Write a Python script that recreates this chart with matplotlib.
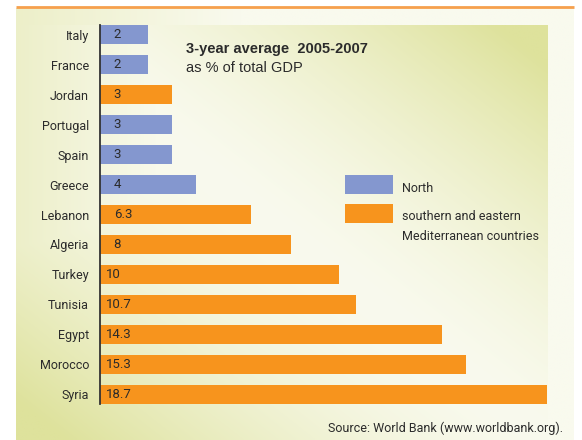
import numpy as np
import matplotlib
matplotlib.use("Agg")
import matplotlib.pyplot as plt
from matplotlib.patches import Rectangle

# data
countries = ["Italy", "France", "Jordan", "Portugal", "Spain", "Greece", "Lebanon",
             "Algeria", "Turkey", "Tunisia", "Egypt", "Morocco", "Syria"]
values = [2, 2, 3, 3, 3, 4, 6.3, 8, 10, 10.7, 14.3, 15.3, 18.7]
labels = ["2", "2", "3", "3", "3", "4", "6.3", "8", "10", "10.7", "14.3", "15.3", "18.7"]
region = ["N", "N", "S", "N", "N", "N", "S", "S", "S", "S", "S", "S", "S"]

BLUE = "#8497cf"
ORANGE = "#f7941d"
TXT = "#2b2b2b"
colors = [BLUE if r == "N" else ORANGE for r in region]

NARROW = ["Roboto", "DejaVu Sans"]
REG = ["Liberation Sans", "DejaVu Sans"]

W, H = 582, 440
fig = plt.figure(figsize=(W / 100, H / 100), dpi=100)
fig.patch.set_facecolor("white")

# background in pixel coordinates
bg = fig.add_axes([0, 0, 1, 1], zorder=-1)
bg.set_xlim(0, W)
bg.set_ylim(H, 0)
bg.axis("off")

light = np.array([249, 250, 238]) / 255
green = np.array([222, 226, 156]) / 255

# outer panel: greenish at left fading to light
xx = np.linspace(0, 1, 200)
g = np.clip(1 - xx * 2.5, 0, 1) * 0.45
img = light[None, None, :] * (1 - g[None, :, None]) + green[None, None, :] * g[None, :, None]
img = np.repeat(img, 2, axis=0)
bg.imshow(img, extent=(16, 574, H, 8), aspect="auto", interpolation="bilinear")

# inner panel: diagonal gradient, green at top-right and bottom-left
u, v = np.meshgrid(np.linspace(0, 1, 200), np.linspace(0, 1, 200))
g2 = np.clip(np.abs(u - v) * 1.1, 0, 1) ** 1.5
g2 = np.maximum(g2, np.clip(1 - u * 3.5, 0, 1) * 0.45)
img2 = light[None, None, :] * (1 - g2[..., None]) + green[None, None, :] * g2[..., None]
bg.imshow(img2, extent=(16, 548, H, 25), aspect="auto", interpolation="bilinear")

# orange rule on top
bg.plot([16, 574], [7, 7], color="#f6a04d", lw=2, solid_capstyle="butt")

# bar chart
ax = fig.add_axes([100 / W, (H - 404) / H, 447 / W, 379 / H])
ax.patch.set_alpha(0)
y = np.arange(len(countries))
ax.barh(y, values, height=0.63, color=colors, left=0)
ax.set_xlim(0, 18.7)
ax.set_ylim(len(countries) - 1 + 0.317, -0.317)
ax.set_yticks(y)
ax.set_yticklabels(countries, fontsize=9, color=TXT, family=NARROW)
ax.tick_params(axis="y", length=0, pad=8)
ax.set_xticks([])
for s in ["top", "right", "bottom"]:
    ax.spines[s].set_visible(False)
ax.spines["left"].set_color("#333333")
ax.spines["left"].set_linewidth(1.3)

# value labels, aligned on the decimal point
for yi, lab in zip(y, labels):
    xpos = 1.34 if "." in lab else 0.88
    ax.text(xpos, yi, lab, ha="right", va="center", fontsize=9.5, color=TXT,
            family=NARROW)

# title
bg.text(186, 49, "3-year average  2005-2007", ha="left", va="center",
        fontsize=10.5, fontweight="bold", color=TXT, family=REG)
bg.text(186, 68, "as % of total GDP", ha="left", va="center",
        fontsize=10.5, color=TXT, family=REG)

# legend
bg.add_patch(Rectangle((345, 175), 48, 19, color=BLUE, lw=0))
bg.add_patch(Rectangle((345, 204), 48, 19, color=ORANGE, lw=0))
bg.text(402, 189, "North", ha="left", va="center", fontsize=9, color=TXT, family=NARROW)
bg.text(402, 217, "southern and eastern", ha="left", va="center", fontsize=9,
        color=TXT, family=NARROW)
bg.text(402, 236, "Mediterranean countries", ha="left", va="center", fontsize=9,
        color=TXT, family=NARROW)

# source
bg.text(563, 428, "Source: World Bank (www.worldbank.org).", ha="right", va="center",
        fontsize=9, color=TXT, family=NARROW)

fig.savefig("out.png", dpi=100)
